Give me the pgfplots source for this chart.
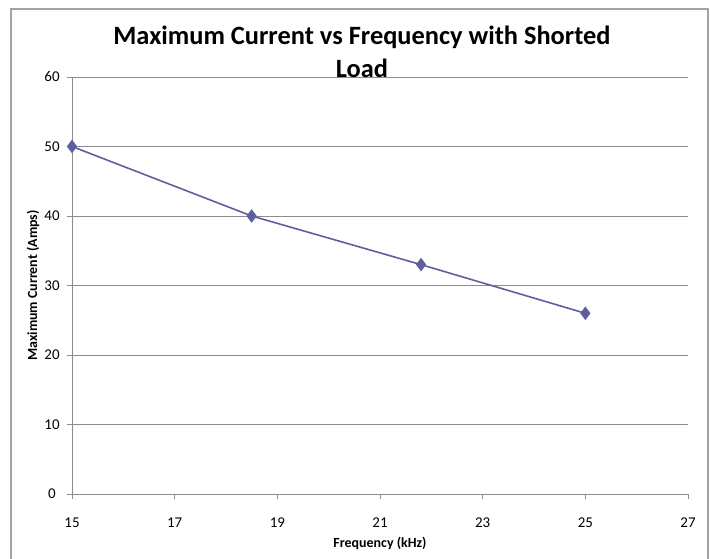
\documentclass[border=0pt]{standalone}
\usepackage{pgfplots}
\pgfplotsset{compat=1.18}
\usepackage{fontspec}
\setmainfont{Carlito}
\definecolor{series}{HTML}{5E5F9F}
\definecolor{gridc}{HTML}{8C8C8C}
\begin{document}
\begin{tikzpicture}[x=1bp,y=1bp]
\path[use as bounding box] (0,0) rectangle (710,559);
\draw[gridc!80, line width=1.2bp] (11,0) -- (11,550) -- (708,550) -- (708,0);
\begin{axis}[
  at={(72bp,65bp)}, anchor=south west,
  scale only axis, width=616bp, height=417bp,
  xmin=15, xmax=27, ymin=0, ymax=60,
  xtick={15,17,...,27}, ytick={0,10,...,60},
  axis x line*=bottom, axis y line*=left,
  axis line style={gridc, line width=0.8bp, -},
  ymajorgrids, major grid style={gridc, line width=0.8bp},
  tick style={gridc, line width=0.8bp},
  tick align=outside, major tick length=5bp,
  /pgf/number format/assume math mode=true,
  ticklabel style={font=\fontsize{15}{17}\selectfont, text=black},
  xticklabel style={anchor=center, yshift=-24bp},
  yticklabel style={anchor=center, xshift=-15bp},
  xlabel={\textbf{Frequency (kHz)}},
  ylabel={\textbf{Maximum Current (Amps)}},
  label style={font=\fontsize{14}{16}\selectfont},
  xlabel style={anchor=center, at={(axis description cs:0.5,-0.1175)}},
  ylabel style={anchor=center, rotate=0, at={(axis description cs:-0.0633,0.5)}},
]
\addplot[color=series, line width=1.6bp, mark=diamond*, mark size=5.5bp, mark options={fill=series}]
  coordinates {(15,50) (18.5,40) (21.8,33) (25,26)};
\end{axis}
\node[font=\bfseries\fontsize{26.5}{27}\selectfont, anchor=base] at (362,514) {Maximum Current vs Frequency with Shorted};
\node[font=\bfseries\fontsize{26.5}{27}\selectfont, anchor=base] at (362,481) {Load};
\end{tikzpicture}
\end{document}
